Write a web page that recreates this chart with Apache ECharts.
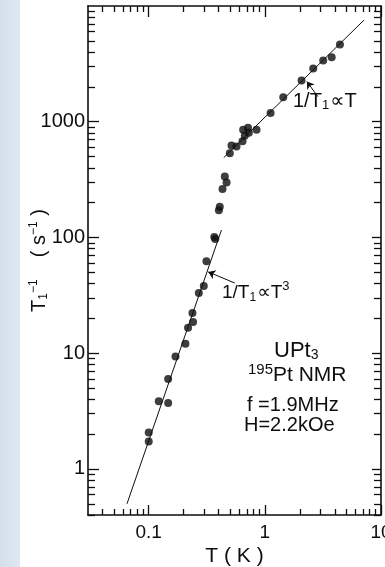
<!DOCTYPE html>
<html>
<head>
<meta charset="utf-8">
<title>UPt3 195Pt NMR relaxation rate</title>
<script src="https://cdn.jsdelivr.net/npm/echarts@6/dist/echarts.min.js"></script>
<style>
  html, body { margin: 0; padding: 0; background: #ffffff; }
  #chart { width: 385px; height: 567px; }
</style>
</head>
<body>
<div id="chart"></div>
<script>
// Measured relaxation rate 1/T1 (s^-1) against temperature T (K)
const temps = [4.43, 3.76, 3.18, 2.61, 2.07, 1.44, 1.12, 0.848,
  0.716, 0.650, 0.728, 0.672, 0.642, 0.570, 0.516, 0.499,
  0.452, 0.468, 0.432, 0.409, 0.402, 0.367, 0.374,
  0.314, 0.298, 0.270, 0.238, 0.241, 0.218, 0.207, 0.170, 0.147,
  0.122, 0.147, 0.100, 0.100];
const rates = [4660, 3610, 3380, 2880, 2270, 1625, 1190, 853,
  887, 853, 803, 757, 678, 611, 623, 533,
  336, 298, 262, 184, 172, 101, 97,
  62.3, 38.1, 33.1, 22.2, 18.6, 16.6, 12.1, 9.35, 6.0,
  3.85, 3.71, 2.06, 1.73];

// Guide lines: 1/T1 ∝ T (normal state) and 1/T1 ∝ T^3 (superconducting state)
const linearT = [0.443, 7.13];
const linearR = [490, 7550];
const cubicT = [0.065, 0.423];
const cubicR = [0.5, 116];

// Arrows from the labels to the guide lines
const arrowLinearT = [2.86, 2.30];
const arrowLinearR = [1648, 2223];
const arrowCubicT = [0.551, 0.325];
const arrowCubicR = [40.4, 50.4];

// Axis ranges and ticks
const xRange = [0.03, 10];
const yRange = [0.4, 10000];
const xMajor = [0.1, 1, 10];
const xMinor = [0.04, 0.05, 0.06, 0.07, 0.08, 0.09,
  0.2, 0.3, 0.4, 0.5, 0.6, 0.7, 0.8, 0.9,
  2, 3, 4, 5, 6, 7, 8, 9];
const yMajor = [1, 10, 100, 1000];
const yMinor = [0.4, 0.5, 0.6, 0.7, 0.8, 0.9,
  2, 3, 4, 5, 6, 7, 8, 9,
  20, 30, 40, 50, 60, 70, 80, 90,
  200, 300, 400, 500, 600, 700, 800, 900,
  2000, 3000, 4000, 5000, 6000, 7000, 8000, 9000];

// Sample description block
const infoLines = ['f =1.9MHz', 'H=2.2kOe'];

const INK = '#0e0e0e';
const FONT = '"Liberation Sans", Arial, Helvetica, "DejaVu Sans", sans-serif';

const chart = echarts.init(document.getElementById('chart'), null, { renderer: 'canvas' });

const fmt = v => (v < 1 ? String(v) : String(Math.round(v)));

function makeAxis(range, position, ticks, len, opts) {
  return Object.assign({
    type: 'log',
    logBase: 10,
    min: range[0],
    max: range[1],
    position: position,
    splitLine: { show: false },
    minorTick: { show: false },
    axisLine: { show: false, onZero: false },
    axisTick: {
      show: true, inside: true, length: len, customValues: ticks,
      lineStyle: { color: INK, width: 1.3 }
    },
    axisLabel: { show: false },
    silent: true
  }, opts || {});
}

const frameLine = { show: true, onZero: false, lineStyle: { color: INK, width: 1.6 } };

const xAxes = [
  makeAxis(xRange, 'bottom', xMajor, 10, {
    axisLine: frameLine,
    axisLabel: {
      show: true, customValues: xMajor, formatter: fmt,
      fontSize: 19, color: INK, fontFamily: FONT, margin: 8
    },
    name: 'T ( K )',
    nameLocation: 'middle',
    nameGap: 31,
    nameMoveOverlap: false,
    nameTextStyle: { fontSize: 21, color: INK, fontFamily: FONT }
  }),
  makeAxis(xRange, 'top', xMajor, 11, { axisLine: frameLine }),
  makeAxis(xRange, 'bottom', xMinor, 6),
  makeAxis(xRange, 'top', xMinor, 6)
];

const yAxes = [
  makeAxis(yRange, 'left', yMajor, 11, {
    axisLine: frameLine,
    axisLabel: {
      show: true, customValues: yMajor, formatter: fmt,
      fontSize: 20, color: INK, fontFamily: FONT, margin: 3
    },
    name: '{t|T}{sub|1}{sup|−1}{t|    ( s}{sup|−1}{t| )}',
    nameLocation: 'middle',
    nameRotate: 90,
    nameGap: 36,
    nameMoveOverlap: false,
    nameTextStyle: {
      color: INK, fontFamily: FONT,
      rich: {
        t: { fontSize: 20, color: INK, fontFamily: FONT, lineHeight: 26, verticalAlign: 'middle' },
        sub: { fontSize: 12, color: INK, fontFamily: FONT, lineHeight: 26, verticalAlign: 'bottom', padding: [0, 0, 2, 0] },
        sup: { fontSize: 12, color: INK, fontFamily: FONT, lineHeight: 26, verticalAlign: 'top', padding: [2, 0, 0, 0] }
      }
    }
  }),
  makeAxis(yRange, 'right', yMajor, 9, { axisLine: frameLine }),
  makeAxis(yRange, 'left', yMinor, 7),
  makeAxis(yRange, 'right', yMinor, 7)
];

const points = temps.map((t, i) => [t, rates[i]]);
const pairs = (xs, ys) => xs.map((x, i) => [x, ys[i]]);

const arrowStyle = { color: INK, width: 1, type: 'solid' };
function arrowData(xs, ys) {
  return [[{ coord: [xs[0], ys[0]] }, { coord: [xs[1], ys[1]] }]];
}

function annRich(size) {
  return {
    a: { fontSize: size, color: INK, fontFamily: FONT, lineHeight: 28, verticalAlign: 'middle' },
    s: { fontSize: Math.round(size * 0.65), color: INK, fontFamily: FONT, lineHeight: 28, verticalAlign: 'bottom', padding: [0, 1, 3, 0] },
    p: { fontSize: Math.round(size * 0.7), color: INK, fontFamily: FONT, lineHeight: 28, verticalAlign: 'top', padding: [1, 0, 0, 0] }
  };
}

function richLabel(x, y, text, size, align) {
  return {
    type: 'text', x: x, y: y, silent: true, z: 10,
    style: {
      text: text, rich: annRich(size), fill: INK,
      font: size + 'px ' + FONT,
      textAlign: align || 'center', textVerticalAlign: 'middle'
    }
  };
}

function plainLabel(x, y, text, size) {
  return {
    type: 'text', x: x, y: y, silent: true, z: 10,
    style: {
      text: text, fill: INK,
      font: size + 'px ' + FONT,
      textAlign: 'left', textVerticalAlign: 'middle'
    }
  };
}

const option = {
  backgroundColor: '#ffffff',
  animation: false,
  grid: { left: 88, right: 4, top: 6, bottom: 52, containLabel: false, outerBoundsMode: 'none' },
  xAxis: xAxes,
  yAxis: yAxes,
  graphic: [
    {
      type: 'rect', left: 0, top: 0, z: -10, silent: true,
      shape: { width: 20, height: 567 },
      style: {
        fill: new echarts.graphic.LinearGradient(0, 0, 1, 0, [
          { offset: 0, color: '#d5dfed' },
          { offset: 1, color: '#dfe7f2' }
        ])
      }
    },
    richLabel(293, 101, '{a|1/T}{s|1}{a|∝T}', 20, 'left'),
    richLabel(222, 293, '{a|1/T}{s|1}{a|∝T}{p|3}', 19, 'left'),
    richLabel(274, 351, '{a|UPt}{s|3}', 22, 'left'),
    richLabel(248, 375, '{p|195}{a|Pt NMR}', 21, 'left'),
    plainLabel(247, 405, infoLines[0], 20),
    plainLabel(244, 425, infoLines[1], 20)
  ],
  series: [
    {
      type: 'line', name: 'linear',
      data: pairs(linearT, linearR),
      showSymbol: false, symbol: 'none',
      lineStyle: { color: INK, width: 1 },
      silent: true, z: 3,
      markLine: {
        silent: true, symbol: ['none', 'arrow'], symbolSize: 7,
        label: { show: false }, lineStyle: arrowStyle,
        data: arrowData(arrowLinearT, arrowLinearR)
      }
    },
    {
      type: 'line', name: 'cubic',
      data: pairs(cubicT, cubicR),
      showSymbol: false, symbol: 'none',
      lineStyle: { color: INK, width: 1 },
      silent: true, z: 3,
      markLine: {
        silent: true, symbol: ['none', 'arrow'], symbolSize: 7,
        label: { show: false }, lineStyle: arrowStyle,
        data: arrowData(arrowCubicT, arrowCubicR)
      }
    },
    {
      type: 'scatter', name: '1/T1',
      data: points,
      symbol: 'circle', symbolSize: 8,
      itemStyle: { color: INK },
      silent: true, z: 4
    }
  ]
};

chart.setOption(option);
</script>
</body>
</html>
